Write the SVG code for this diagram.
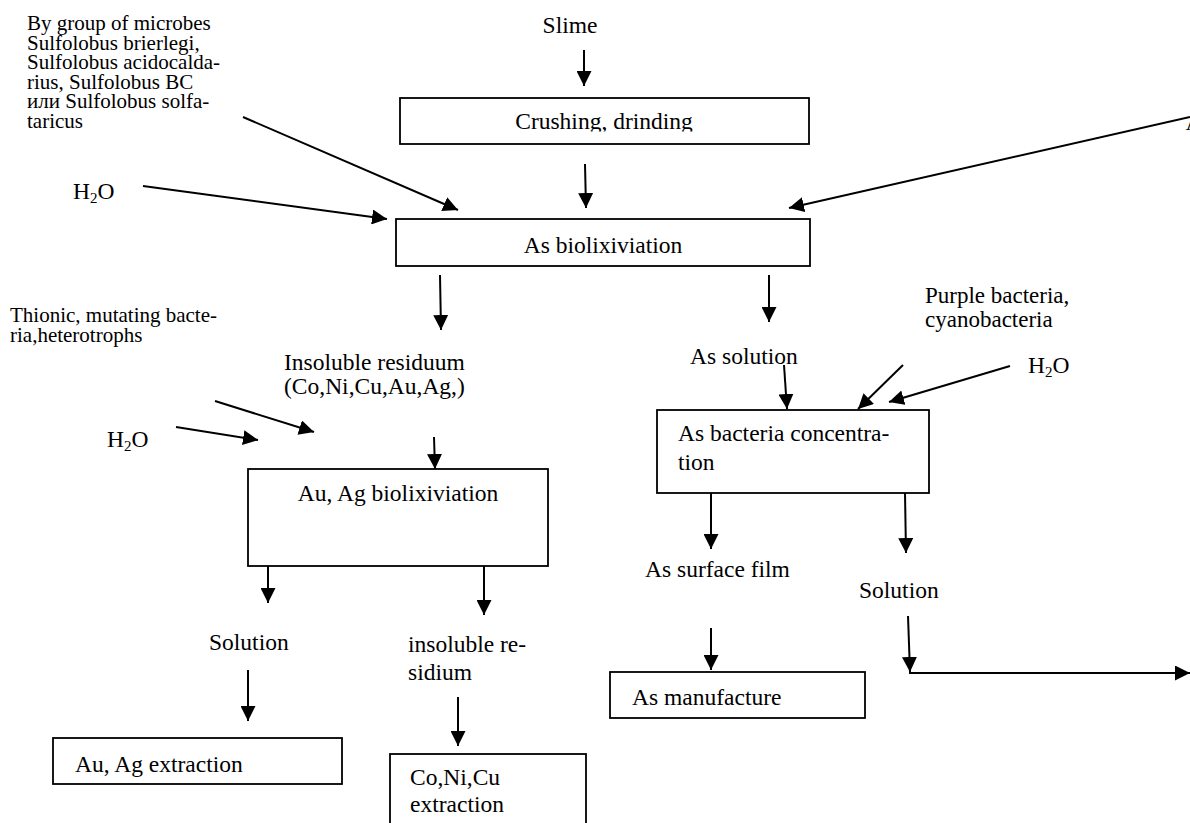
<svg xmlns="http://www.w3.org/2000/svg" width="1190" height="823" viewBox="0 0 1190 823">
<style>
text{font-family:"Liberation Serif","Times New Roman",serif;fill:#000}
.b{font-size:23.5px}
.s{font-size:21px}
.box{fill:#fff;stroke:#000;stroke-width:1.8}
.c line,.c polyline{stroke:#000;stroke-width:2;fill:none}
.c .a{marker-end:url(#ah)}
.sub{font-size:15px}
</style>
<defs>
<marker id="ah" markerUnits="userSpaceOnUse" markerWidth="15" markerHeight="15" refX="14" refY="7" orient="auto" viewBox="0 0 14 14">
<path d="M0,0 L14,7 L0,14 z" fill="#000"/>
</marker>
<clipPath id="clipCrush"><rect x="400" y="98" width="409" height="33.5"/></clipPath>
</defs>
<rect width="1190" height="823" fill="#fff"/>

<g id="connectors" class="c">
<line class="a" x1="584" y1="50" x2="584" y2="86"/>
<line class="a" x1="585" y1="164" x2="586" y2="208"/>
<line class="a" x1="243" y1="117" x2="458" y2="210"/>
<line class="a" x1="143" y1="186" x2="387" y2="219"/>
<line class="a" x1="1190" y1="117" x2="789" y2="208"/>
<line class="a" x1="440" y1="275" x2="441" y2="330"/>
<line class="a" x1="769" y1="275" x2="769" y2="322"/>
<line class="a" x1="215" y1="401" x2="314" y2="432"/>
<line class="a" x1="176" y1="427" x2="258" y2="440"/>
<line class="a" x1="434" y1="437" x2="435" y2="469"/>
<line class="a" x1="784" y1="365" x2="787" y2="409"/>
<line class="a" x1="903" y1="365" x2="858" y2="409"/>
<line class="a" x1="1010" y1="366" x2="889" y2="402"/>
<line class="a" x1="268" y1="566" x2="268" y2="603"/>
<line class="a" x1="484" y1="566" x2="484" y2="615"/>
<line class="a" x1="711" y1="493" x2="711" y2="549"/>
<line class="a" x1="905" y1="493" x2="906" y2="553"/>
<line class="a" x1="248" y1="670" x2="248" y2="721"/>
<line class="a" x1="458" y1="697" x2="458" y2="746"/>
<line class="a" x1="711" y1="628" x2="711" y2="670"/>
<line class="a" x1="908" y1="616" x2="910" y2="672"/>
<line class="a" x1="909" y1="673" x2="1190" y2="673"/>
</g>

<g id="n-slime"><text class="b" x="570" y="33" text-anchor="middle">Slime</text></g>
<g id="n-crushing">
<rect class="box" x="400" y="98" width="409" height="46"/>
<text class="b" x="604" y="129" text-anchor="middle" clip-path="url(#clipCrush)">Crushing, drinding</text>
</g>
<g id="n-microbes">
<text class="s" x="27" y="30">By group of microbes</text>
<text class="s" x="27" y="49.5">Sulfolobus brierlegi,</text>
<text class="s" x="27" y="69">Sulfolobus acidocalda-</text>
<text class="s" x="27" y="88.5">rius, Sulfolobus BC</text>
<text class="s" x="27" y="108">или Sulfolobus solfa-</text>
<text class="s" x="27" y="127.5">taricus</text>
</g>
<g id="n-h2o-1"><text class="b" x="73" y="199">H<tspan class="sub" dy="4">2</tspan><tspan dy="-4">O</tspan></text></g>
<g id="n-a-right"><text class="b" x="1185.5" y="130">A</text></g>
<g id="n-as-biolix">
<rect class="box" x="396" y="219" width="414" height="47"/>
<text class="b" x="603" y="253" text-anchor="middle">As biolixiviation</text>
</g>
<g id="n-thionic">
<text class="s" x="10" y="322">Thionic, mutating bacte-</text>
<text class="s" x="10" y="341.5">ria,heterotrophs</text>
</g>
<g id="n-h2o-2"><text class="b" x="107" y="447">H<tspan class="sub" dy="4">2</tspan><tspan dy="-4">O</tspan></text></g>
<g id="n-insoluble">
<text class="b" x="284" y="370">Insoluble residuum</text>
<text class="b" x="284" y="394">(Co,Ni,Cu,Au,Ag,)</text>
</g>
<g id="n-as-solution"><text class="b" x="690" y="364">As solution</text></g>
<g id="n-purple">
<text class="b" x="925" y="303" style="font-size:23px">Purple bacteria,</text>
<text class="b" x="925" y="327" style="font-size:23px">cyanobacteria</text>
</g>
<g id="n-h2o-3"><text class="b" x="1028" y="373">H<tspan class="sub" dy="4">2</tspan><tspan dy="-4">O</tspan></text></g>
<g id="n-auag-biolix">
<rect class="box" x="248" y="469" width="300" height="97"/>
<text class="b" x="398" y="501" text-anchor="middle">Au, Ag biolixiviation</text>
</g>
<g id="n-as-bact">
<rect class="box" x="657" y="410" width="272" height="83"/>
<text class="b" x="678" y="441">As bacteria concentra-</text>
<text class="b" x="678" y="470">tion</text>
</g>
<g id="n-solution-left"><text class="b" x="209" y="650">Solution</text></g>
<g id="n-insoluble-re">
<text class="b" x="408" y="652">insoluble re-</text>
<text class="b" x="408" y="680">sidium</text>
</g>
<g id="n-surface-film"><text class="b" x="645" y="577">As surface film</text></g>
<g id="n-solution-right"><text class="b" x="859" y="598">Solution</text></g>
<g id="n-as-manufacture">
<rect class="box" x="610" y="672" width="255" height="46"/>
<text class="b" x="632" y="705">As manufacture</text>
</g>
<g id="n-auag-extraction">
<rect class="box" x="53" y="738" width="289" height="46"/>
<text class="b" x="75" y="772">Au, Ag extraction</text>
</g>
<g id="n-conicu-extraction">
<rect class="box" x="390" y="754" width="196" height="80"/>
<text class="b" x="410" y="785">Co,Ni,Cu</text>
<text class="b" x="410" y="812">extraction</text>
</g>
</svg>
